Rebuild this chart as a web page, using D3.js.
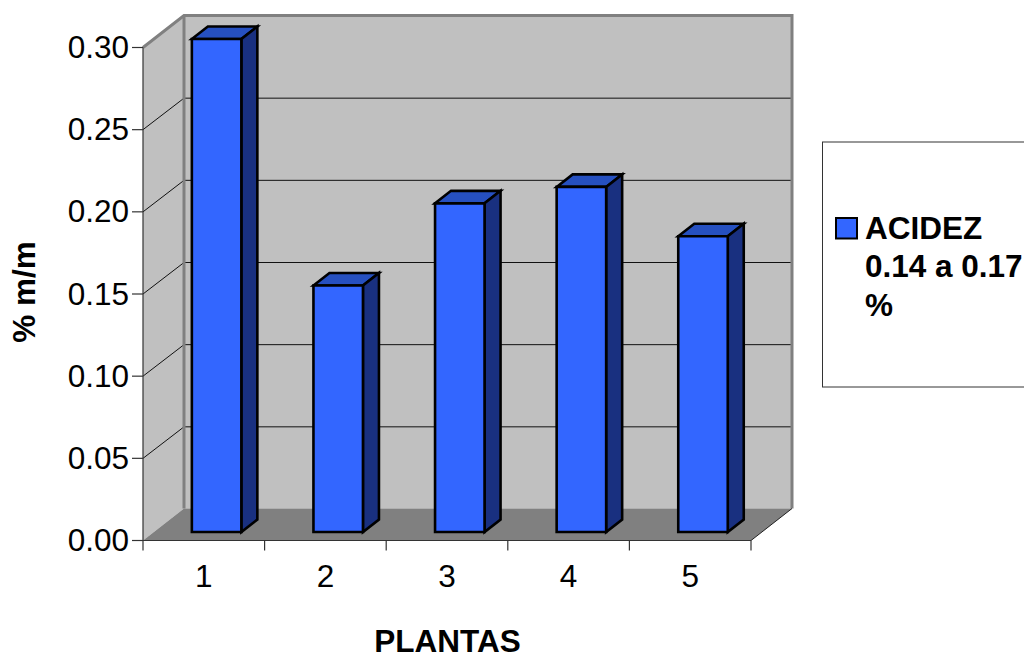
<!DOCTYPE html>
<html><head><meta charset="utf-8">
<script src="https://cdn.jsdelivr.net/npm/d3@7/dist/d3.min.js"></script>
<style>html,body{margin:0;padding:0;background:#fff;overflow:hidden}svg{display:block}text{font-family:"Liberation Sans",Arial,sans-serif;fill:#000}</style>
</head><body><svg id="c" width="1024" height="659"></svg>
<script>
const categories = ["1","2","3","4","5"];
const values = [0.30,0.15,0.20,0.21,0.18];
const yTicks = [0,0.05,0.10,0.15,0.20,0.25,0.30];
const legendLines = ["ACIDEZ","0.14 a 0.17","%"];
const xTitle = "PLANTAS", yTitle = "% m/m";

const svg = d3.select("#c");
const x = d3.scaleBand().domain(categories).range([143,751]);
const y = d3.scaleLinear().domain([0,0.30]).range([540.5,47.5]);
const DX=41, DY=-32;           // wall depth
const BX=13, BY=-8.5;          // bar front offset
const bdx=16, bdy=-12.5;       // bar depth
const barW=49.5;
const line=d3.line();
const poly=(pts,fill,stroke,sw)=>svg.append("path").attr("d",line(pts)+"Z").attr("fill",fill).attr("stroke",stroke||"none").attr("stroke-width",sw||0).attr("stroke-linejoin","miter");
const seg=(pts,stroke,sw)=>svg.append("path").attr("d",line(pts)).attr("fill","none").attr("stroke",stroke).attr("stroke-width",sw);

const x0=x.range()[0], x1=x.range()[1], y0=y(0), yT=y(0.30);
// walls
poly([[x0+DX,yT+DY],[x1+DX,yT+DY],[x1+DX,y0+DY],[x0+DX,y0+DY]],"#c0c0c0");
poly([[x0,yT],[x0+DX,yT+DY],[x0+DX,y0+DY],[x0,y0]],"#c0c0c0");
poly([[x0,y0],[x1,y0],[x1+DX,y0+DY],[x0+DX,y0+DY]],"#808080");
// gridlines
yTicks.slice(1,-1).forEach(t=>{
  seg([[x0,y(t)],[x0+DX,y(t)+DY+0.5],[x1+DX,y(t)+DY+0.5]],"#111",1);
});
// wall borders
seg([[x0,yT],[x0+DX,yT+DY],[x1+DX,yT+DY],[x1+DX,y0+DY]],"#808080",3);
seg([[x0+DX,yT+DY],[x0+DX,y0+DY]],"#808080",3);
seg([[x1,y0],[x1+DX,y0+DY]],"#222",1);
// axes
seg([[x0,yT],[x0,y0]],"#333",1.2);
seg([[x0-11,y0],[x1,y0]],"#333",1.2);
yTicks.forEach(t=>seg([[x0-11,y(t)],[x0,y(t)]],"#333",1.2));
d3.range(categories.length+1).forEach(i=>{const p=x0+i*x.step();seg([[p,y0],[p,y0+10]],"#333",1.2)});
// tick labels
svg.selectAll(".yl").data(yTicks).join("text").attr("class","yl")
  .attr("x",129).attr("y",d=>y(d)+10.5).attr("text-anchor","end").attr("font-size",31.5).text(d=>d.toFixed(2));
svg.selectAll(".xl").data(categories).join("text").attr("class","xl")
  .attr("x",d=>x(d)+x.bandwidth()/2).attr("y",587).attr("text-anchor","middle").attr("font-size",31.5).text(d=>d);
// bars
categories.forEach((c,i)=>{
  const l=x(c)+x.bandwidth()/2+BX-barW/2-0.2, r=l+barW, b=y(0)+BY, t=y(values[i])+BY;
  poly([[l,t],[l+bdx,t+bdy],[r+bdx,t+bdy],[r,t]],"#2650c0","#000",2.6);
  poly([[r,t],[r+bdx,t+bdy],[r+bdx,b+bdy],[r,b]],"#193080","#000",2.6);
  poly([[l,t],[r,t],[r,b],[l,b]],"#3366ff","#000",2.6);
});
// titles
svg.append("text").attr("x",447.5).attr("y",652).attr("text-anchor","middle").attr("font-size",31.5).attr("font-weight","bold").text(xTitle);
svg.append("text").attr("transform","translate(35,292) rotate(-90)").attr("text-anchor","middle").attr("font-size",31.5).attr("font-weight","bold").text(yTitle);
// legend
svg.append("rect").attr("x",822.5).attr("y",142).attr("width",260).attr("height",245).attr("fill","#fff").attr("stroke","#333").attr("stroke-width",1);
svg.append("rect").attr("x",836).attr("y",218).attr("width",21).attr("height",20.5).attr("fill","#3366ff").attr("stroke","#000").attr("stroke-width",2);
svg.selectAll(".lg").data(legendLines).join("text").attr("class","lg")
  .attr("x",865).attr("y",(d,i)=>238.5+i*38.5).attr("font-size",31.5).attr("font-weight","bold").text(d=>d);
</script></body></html>
